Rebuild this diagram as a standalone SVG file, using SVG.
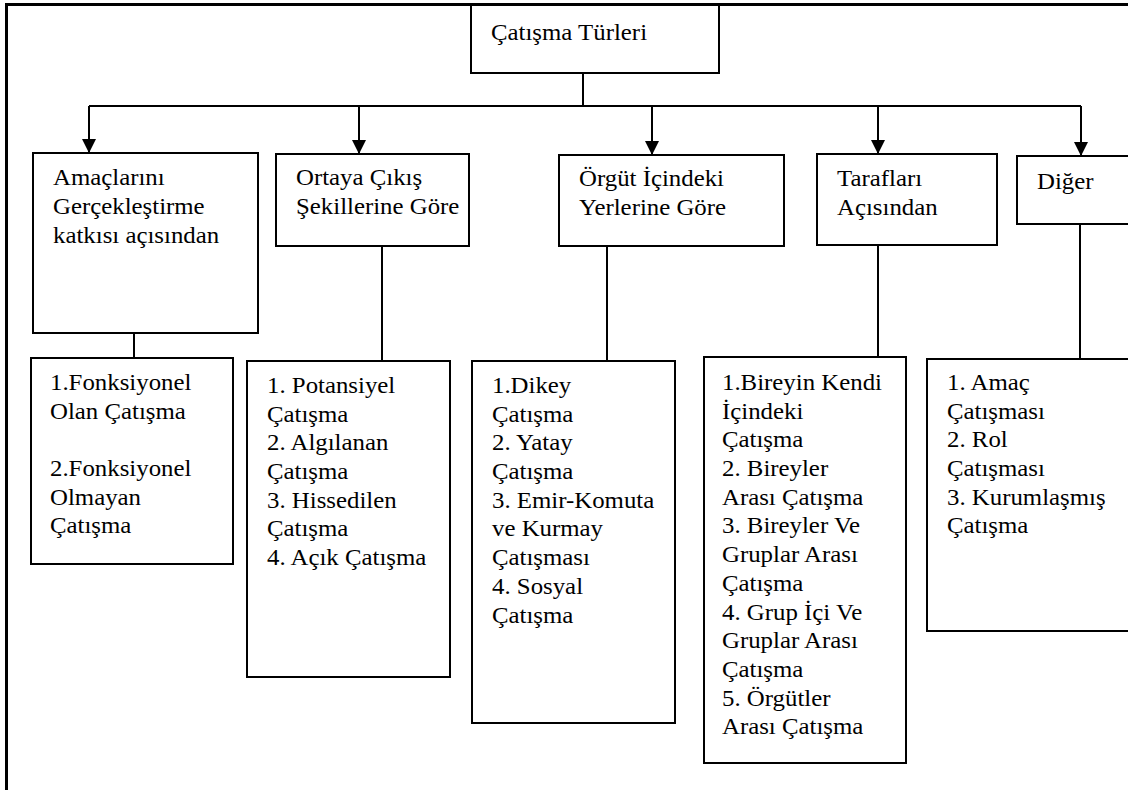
<svg xmlns="http://www.w3.org/2000/svg" width="1128" height="790" viewBox="0 0 1128 790">
<style>
  .box { fill: #fff; stroke: #000; stroke-width: 2; }
  .conn { fill: none; stroke: #000; stroke-width: 2; }
  .frame { fill: none; stroke: #000; stroke-width: 3; }
  .t { font-family: 'Liberation Serif', 'DejaVu Serif', serif; font-size: 23px; fill: #000; }
</style>
<defs>
  <marker id="arrow" markerUnits="userSpaceOnUse" markerWidth="14" markerHeight="16" refX="14" refY="7" orient="auto">
    <path d="M0,0 L14,7 L0,14 Z" fill="#000"/>
  </marker>
</defs>
<rect width="1128" height="790" fill="#fff"/>
<path class="frame" d="M6.5,790 L6.5,4.5 L1130,4.5"/>

<g id="connectors">
  <path class="conn" d="M583,73 L583,106"/>
  <path class="conn" d="M89,106 L1081,106"/>
  <path class="conn" d="M89,106 L89,153" marker-end="url(#arrow)"/>
  <path class="conn" d="M359,106 L359,154" marker-end="url(#arrow)"/>
  <path class="conn" d="M652,106 L652,155" marker-end="url(#arrow)"/>
  <path class="conn" d="M878,106 L878,154" marker-end="url(#arrow)"/>
  <path class="conn" d="M1081,106 L1081,156" marker-end="url(#arrow)"/>
  <path class="conn" d="M134,333 L134,358"/>
  <path class="conn" d="M382,246 L382,361"/>
  <path class="conn" d="M607,246 L607,361"/>
  <path class="conn" d="M878,245 L878,357"/>
  <path class="conn" d="M1080,224 L1080,359"/>
</g>

<g id="root">
  <rect class="box" x="471" y="5" width="248" height="68"/>
  <text class="t" font-family="Liberation Serif, serif" transform="translate(491,40) scale(1.08,1)">Çatışma Türleri</text>
</g>

<g id="amac">
  <rect class="box" x="33" y="153" width="225" height="180"/>
  <text class="t" font-family="Liberation Serif, serif" transform="translate(53,185) scale(1.08,1)"><tspan x="0" y="0">Amaçlarını</tspan><tspan x="0" y="29">Gerçekleştirme</tspan><tspan x="0" y="58">katkısı açısından</tspan></text>
</g>

<g id="ortaya">
  <rect class="box" x="276" y="154" width="193" height="92"/>
  <text class="t" font-family="Liberation Serif, serif" transform="translate(296,185) scale(1.08,1)"><tspan x="0" y="0">Ortaya Çıkış</tspan><tspan x="0" y="29">Şekillerine Göre</tspan></text>
</g>

<g id="orgut">
  <rect class="box" x="559" y="155" width="225" height="91"/>
  <text class="t" font-family="Liberation Serif, serif" transform="translate(579,186) scale(1.08,1)"><tspan x="0" y="0">Örgüt İçindeki</tspan><tspan x="0" y="29">Yerlerine Göre</tspan></text>
</g>

<g id="taraflar">
  <rect class="box" x="817" y="154" width="180" height="91"/>
  <text class="t" font-family="Liberation Serif, serif" transform="translate(837,186) scale(1.08,1)"><tspan x="0" y="0">Tarafları</tspan><tspan x="0" y="29">Açısından</tspan></text>
</g>

<g id="diger">
  <rect class="box" x="1017" y="156" width="130" height="68"/>
  <text class="t" font-family="Liberation Serif, serif" transform="translate(1037,189) scale(1.08,1)">Diğer</text>
</g>

<g id="fonksiyonel">
  <rect class="box" x="31" y="358" width="202" height="206"/>
  <text class="t" font-family="Liberation Serif, serif" transform="translate(50,390) scale(1.08,1)"><tspan x="0" y="0">1.Fonksiyonel</tspan><tspan x="0" y="28.7">Olan Çatışma</tspan><tspan x="0" y="86.1">2.Fonksiyonel</tspan><tspan x="0" y="114.8">Olmayan</tspan><tspan x="0" y="143.5">Çatışma</tspan></text>
</g>

<g id="potansiyel">
  <rect class="box" x="247" y="361" width="203" height="316"/>
  <text class="t" font-family="Liberation Serif, serif" transform="translate(267,393) scale(1.08,1)"><tspan x="0" y="0">1. Potansiyel</tspan><tspan x="0" y="28.7">Çatışma</tspan><tspan x="0" y="57.4">2. Algılanan</tspan><tspan x="0" y="86.1">Çatışma</tspan><tspan x="0" y="114.8">3. Hissedilen</tspan><tspan x="0" y="143.5">Çatışma</tspan><tspan x="0" y="172.2">4. Açık Çatışma</tspan></text>
</g>

<g id="dikey">
  <rect class="box" x="472" y="361" width="203" height="362"/>
  <text class="t" font-family="Liberation Serif, serif" transform="translate(492,393) scale(1.08,1)"><tspan x="0" y="0">1.Dikey</tspan><tspan x="0" y="28.7">Çatışma</tspan><tspan x="0" y="57.4">2. Yatay</tspan><tspan x="0" y="86.1">Çatışma</tspan><tspan x="0" y="114.8">3. Emir-Komuta</tspan><tspan x="0" y="143.5">ve Kurmay</tspan><tspan x="0" y="172.2">Çatışması</tspan><tspan x="0" y="200.9">4. Sosyal</tspan><tspan x="0" y="229.6">Çatışma</tspan></text>
</g>

<g id="bireyin">
  <rect class="box" x="704" y="357" width="202" height="406"/>
  <text class="t" font-family="Liberation Serif, serif" transform="translate(722,390) scale(1.08,1)"><tspan x="0" y="0">1.Bireyin Kendi</tspan><tspan x="0" y="28.7">İçindeki</tspan><tspan x="0" y="57.4">Çatışma</tspan><tspan x="0" y="86.1">2. Bireyler</tspan><tspan x="0" y="114.8">Arası Çatışma</tspan><tspan x="0" y="143.5">3. Bireyler Ve</tspan><tspan x="0" y="172.2">Gruplar Arası</tspan><tspan x="0" y="200.9">Çatışma</tspan><tspan x="0" y="229.6">4. Grup İçi Ve</tspan><tspan x="0" y="258.3">Gruplar Arası</tspan><tspan x="0" y="287">Çatışma</tspan><tspan x="0" y="315.7">5. Örgütler</tspan><tspan x="0" y="344.4">Arası Çatışma</tspan></text>
</g>

<g id="amac-catismasi">
  <rect class="box" x="927" y="359" width="220" height="272"/>
  <text class="t" font-family="Liberation Serif, serif" transform="translate(947,390) scale(1.08,1)"><tspan x="0" y="0">1. Amaç</tspan><tspan x="0" y="28.7">Çatışması</tspan><tspan x="0" y="57.4">2. Rol</tspan><tspan x="0" y="86.1">Çatışması</tspan><tspan x="0" y="114.8">3. Kurumlaşmış</tspan><tspan x="0" y="143.5">Çatışma</tspan></text>
</g>
</svg>
